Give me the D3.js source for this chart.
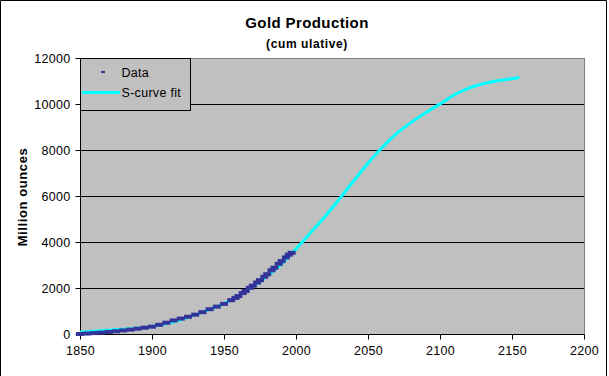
<!DOCTYPE html>
<html><head><meta charset="utf-8">
<script src="https://cdn.jsdelivr.net/npm/d3@7"></script>
<style>
body{margin:0;background:#fff;}
svg{display:block;font-family:"Liberation Sans",Arial,sans-serif;}
</style></head>
<body>
<script>
// Observed data (cumulative, million ounces)
const dataYears = [1850,1855,1860,1865,1870,1875,1880,1885,1890,1895,1900,1905,1910,1915,1920,1925,1930,1935,1940,1945,1950,1955,1958,1960,1963,1965,1968,1970,1973,1975,1978,1980,1983,1985,1988,1990,1993,1995,1997];
const dataValues = [0,20,40,60,90,120,155,190,230,275,320,400,490,590,670,750,840,950,1080,1190,1310,1470,1570,1650,1780,1870,2010,2100,2240,2340,2490,2600,2770,2880,3050,3170,3330,3450,3530];
// S-curve fit
const fitYears = [1850,1860,1870,1880,1890,1900,1910,1920,1930,1940,1950,1960,1970,1980,1990,2000,2010,2020,2030,2040,2050,2060,2070,2080,2090,2100,2110,2120,2130,2140,2150,2155];
const fitValues = [80,120,165,210,260,330,450,620,830,1060,1320,1650,2050,2520,3050,3700,4400,5100,5860,6650,7420,8120,8720,9200,9620,10000,10400,10690,10880,11010,11100,11150];
const xTicks = [1850,1900,1950,2000,2050,2100,2150,2200];
const yTicks = [0,2000,4000,6000,8000,10000,12000];
const title = "Gold Production";
const subtitle = "(cum ulative)";
const yTitle = "Million ounces";
const legendLabels = ["Data","S-curve fit"];

const W = 609, H = 376;
const L = 80, R = 584, T = 58, B = 334;
const svg = d3.select("body").append("svg").attr("width",W).attr("height",H);

svg.append("rect").attr("x",0).attr("y",0).attr("width",W).attr("height",H).attr("fill","#fff");
// outer frame
svg.append("path").attr("d",`M0.5,${H} V0.5 H606.5 V${H}`).attr("fill","none").attr("stroke","#000");

const x = d3.scaleLinear().domain([1850,2200]).range([L,R]);
const y = d3.scaleLinear().domain([0,12000]).range([B,T]);

// plot area
svg.append("rect").attr("x",L).attr("y",T).attr("width",R-L).attr("height",B-T)
  .attr("fill","#c0c0c0").attr("stroke","#808080").attr("stroke-width",1)
  .attr("shape-rendering","crispEdges");

// gridlines
svg.append("g").selectAll("line").data(yTicks.filter(d=>d>0 && d<12000)).join("line")
  .attr("x1",L).attr("x2",R).attr("y1",d=>Math.round(y(d))+0.5).attr("y2",d=>Math.round(y(d))+0.5)
  .attr("stroke","#000").attr("stroke-width",1);

// axes
const xAxis = d3.axisBottom(x).tickValues(xTicks).tickFormat(d3.format("d")).tickSize(5).tickPadding(7);
const yAxis = d3.axisLeft(y).tickValues(yTicks).tickFormat(d3.format("d")).tickSize(5).tickPadding(5);
const gx = svg.append("g").attr("transform",`translate(0,${B+0.5})`).call(xAxis);
const gy = svg.append("g").attr("transform",`translate(${L+0.5},0)`).call(yAxis);
[gx,gy].forEach(g=>{
  g.select(".domain").attr("stroke","#000");
  g.selectAll(".tick line").attr("stroke","#000");
  g.selectAll("text").attr("fill","#000").attr("font-size","12.5px")
   .attr("font-family","'Liberation Sans',Arial,sans-serif").attr("letter-spacing","0.3px");
});
gx.select(".domain").attr("d",`M${L},0H${R}`);
gy.select(".domain").attr("d",`M0,${B}V${T}`);

// fit line
const fit = fitYears.map((d,i)=>({x:d,y:fitValues[i]}));
svg.append("path").datum(fit)
  .attr("d",d3.line().x(d=>x(d.x)).y(d=>y(d.y)).curve(d3.curveMonotoneX))
  .attr("fill","none").attr("stroke","#00ffff").attr("stroke-width",3);

// data markers (dash)
const pts = dataYears.map((d,i)=>({x:d,y:dataValues[i]}));
svg.append("g").selectAll("rect").data(pts).join("rect")
  .attr("x",d=>x(d.x)-4).attr("y",d=>y(d.y)-2).attr("width",8).attr("height",4)
  .attr("fill","#333399");

// titles
svg.append("text").attr("x",307).attr("y",28).attr("text-anchor","middle")
  .attr("font-size","15px").attr("font-weight","bold").attr("letter-spacing","0.4px").text(title);
svg.append("text").attr("x",307).attr("y",48).attr("text-anchor","middle")
  .attr("font-size","12px").attr("font-weight","bold").attr("letter-spacing","0.6px").text(subtitle);
svg.append("text").attr("transform",`translate(27,197) rotate(-90)`).attr("text-anchor","middle")
  .attr("font-size","13px").attr("font-weight","bold").attr("letter-spacing","0.6px").text(yTitle);

// legend
const lg = svg.append("g");
lg.append("rect").attr("x",80.5).attr("y",58.5).attr("width",110).attr("height",52)
  .attr("fill","#c0c0c0").attr("stroke","#000").attr("stroke-width",1);
lg.append("rect").attr("x",101).attr("y",71).attr("width",4).attr("height",2).attr("fill","#333399");
lg.append("line").attr("x1",82).attr("x2",120).attr("y1",92.5).attr("y2",92.5).attr("stroke","#00ffff").attr("stroke-width",3);
lg.selectAll("text.lt").data(legendLabels).join("text").attr("class","lt")
  .attr("x",121.5).attr("y",(d,i)=>[77,97][i]).attr("font-size","12.5px").attr("letter-spacing","0.3px")
  .attr("fill","#000").text(d=>d);
</script>
</body></html>
